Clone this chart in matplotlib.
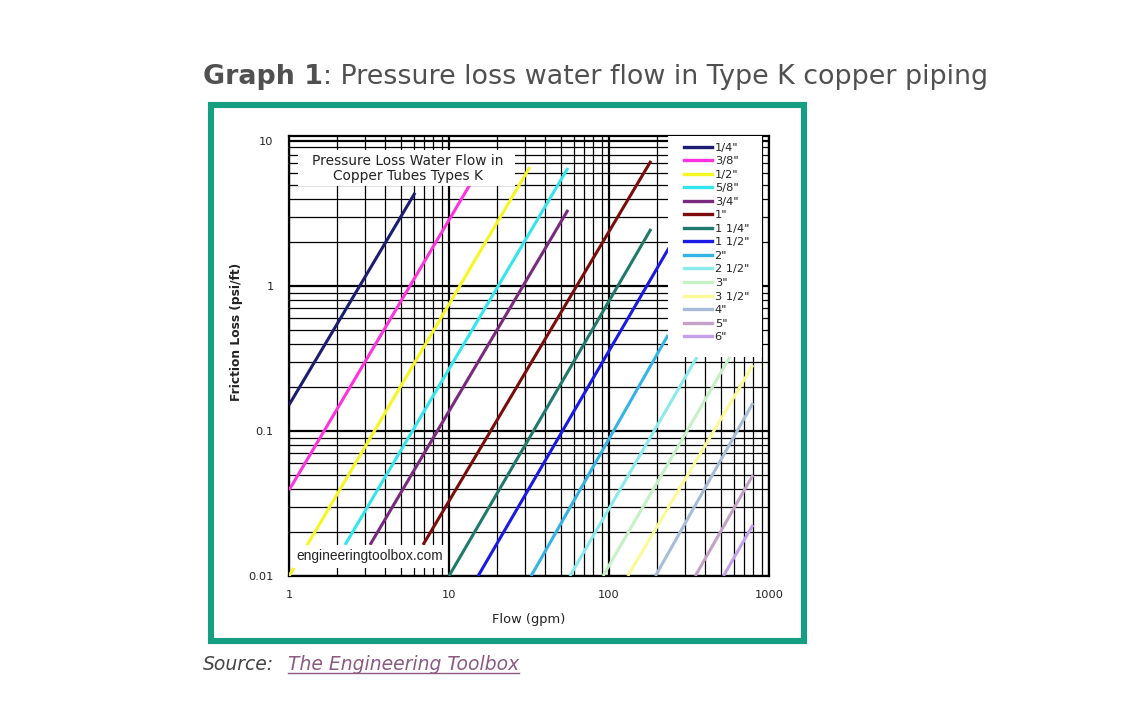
import matplotlib
matplotlib.use("Agg")
import matplotlib.pyplot as plt
from matplotlib.patches import Rectangle
from matplotlib.lines import Line2D
from matplotlib.ticker import LogLocator, NullFormatter, FixedLocator

# ---------------- data ----------------
sizes = ['1/4"', '3/8"', '1/2"', '5/8"', '3/4"', '1"', '1 1/4"', '1 1/2"',
         '2"', '2 1/2"', '3"', '3 1/2"', '4"', '5"', '6"']
flow_start = [1.0, 1.0, 1.0, 2.24, 3.21, 6.88, 10.0, 15.2,
              32.6, 57.0, 91.7, 131.0, 195.0, 346.0, 519.0]
flow_end = [6.13, 13.5, 32.0, 55.4, 55.4, 183.0, 183.0, 237.0,
            234.0, 355.0, 570.0, 794.0, 794.0, 794.0, 794.0]
loss_start = [0.151, 0.039, 0.010, 0.0164, 0.0164, 0.0164, 0.010, 0.010,
              0.010, 0.010, 0.010, 0.010, 0.010, 0.010, 0.010]
loss_end = [4.38, 4.98, 6.6, 6.5, 3.34, 7.28, 2.47, 1.83,
            0.459, 0.324, 0.324, 0.285, 0.156, 0.0497, 0.0225]
colors = ['#1c1c72', '#ff33dd', '#f6f622', '#33e6ee', '#7a2a7e', '#7a0c0c',
          '#1f7a6c', '#1a1ae6', '#33b4e4', '#8aeaee', '#c6f0c6', '#fafa96',
          '#a8bcd8', '#c4a2c8', '#c2a0ec']

x_ticks = [1, 10, 100, 1000]
x_ticklabels = ['1', '10', '100', '1000']
y_ticks = [0.01, 0.1, 1, 10]
y_ticklabels = ['0.01', '0.1', '1', '10']

FONT = 'DejaVu Sans'
W, H = 1140, 718
fig = plt.figure(figsize=(W / 100, H / 100), dpi=100)
fig.patch.set_facecolor('white')

ax = fig.add_axes([289 / W, 1 - 576 / H, 480 / W, 440 / H])
ax.set_xscale('log')
ax.set_yscale('log')
ax.set_xlim(1, 1000)
ax.set_ylim(0.01, 10.8)

for fs, fe, ls, le, c in zip(flow_start, flow_end, loss_start, loss_end, colors):
    ax.plot([fs, fe], [ls, le], color=c, lw=2.2, solid_capstyle='butt', zorder=3)

# grid
ax.xaxis.set_major_locator(FixedLocator(x_ticks))
ax.yaxis.set_major_locator(FixedLocator(y_ticks))
ax.xaxis.set_minor_locator(LogLocator(base=10, subs=range(2, 10)))
ax.yaxis.set_minor_locator(LogLocator(base=10, subs=range(2, 10)))
ax.xaxis.set_minor_formatter(NullFormatter())
ax.yaxis.set_minor_formatter(NullFormatter())
ax.set_xticklabels(x_ticklabels)
ax.set_yticklabels(y_ticklabels)
ax.grid(True, which='major', color='black', lw=1.6, zorder=1)
ax.grid(True, which='minor', color='black', lw=0.9, zorder=1)
ax.set_axisbelow(True)
ax.tick_params(which='both', length=0)
ax.tick_params(axis='y', pad=11, labelsize=8.2)
ax.tick_params(axis='x', pad=10, labelsize=8.2)
for lab in ax.get_xticklabels() + ax.get_yticklabels():
    lab.set_fontfamily(FONT)
    lab.set_color('#222222')
for sp in ax.spines.values():
    sp.set_linewidth(1.6)
    sp.set_color('black')

ax.set_xlabel('Flow (gpm)', fontsize=9.4, family=FONT, color='#222222')
ax.xaxis.set_label_coords(0.5, -0.084)
ax.set_ylabel('Friction Loss (psi/ft)', fontsize=8.8, fontweight='bold',
              family=FONT, color='#222222')
ax.yaxis.set_label_coords(-0.096, 0.555)

# inner title
ax.add_patch(Rectangle((9 / 480, (576 - 186) / 440), 217 / 480, 36 / 440,
                       transform=ax.transAxes, facecolor='white', edgecolor='none', zorder=4))
ax.text(0.248, 0.927, 'Pressure Loss Water Flow in\nCopper Tubes Types K',
        transform=ax.transAxes, ha='center', va='center', fontsize=9.9,
        family=FONT, color='#222222', linespacing=1.1, zorder=5)

# watermark
ax.add_patch(Rectangle((4 / 480, 8 / 440), 152 / 480, 23 / 440,
                       transform=ax.transAxes, facecolor='white', edgecolor='none', zorder=4))
ax.text(0.015, 0.045, 'engineeringtoolbox.com', transform=ax.transAxes,
        ha='left', va='center', fontsize=9.9, family='Liberation Sans',
        color='#222222', zorder=5)

# legend area
ax.add_patch(Rectangle((0.79, 0.498), 0.195, 0.502, transform=ax.transAxes,
                       facecolor='white', edgecolor='none', zorder=4))
handles = [Line2D([0], [0], color=c, lw=2.4) for c in colors]
leg = ax.legend(handles, sizes, loc='upper left', bbox_to_anchor=(0.818, 0.99),
                frameon=False, handlelength=2.5, handletextpad=0.2,
                labelspacing=0.31, borderpad=0.2, borderaxespad=0,
                prop={'family': FONT, 'size': 8.2})
leg.set_zorder(6)
for t in leg.get_texts():
    t.set_color('#222222')

# green frame
fig.patches.append(Rectangle((211 / W, 1 - 641 / H), (804 - 211) / W, (641 - 105) / H,
                             transform=fig.transFigure, fill=False,
                             edgecolor='#149f82', lw=4.4))

# page title
TS = 19.4
t1 = fig.text(203 / W, 1 - 84 / H, 'Graph 1', fontsize=TS, fontweight='bold',
              color='#505050', family=FONT, va='baseline', ha='left')
fig.canvas.draw()
r = fig.canvas.get_renderer()
bb = t1.get_window_extent(r)
fig.text(bb.x1 / W, 1 - 84 / H, ': Pressure loss water flow in Type K copper piping',
         fontsize=TS, color='#505050', family=FONT, va='baseline', ha='left')

# source line
fig.text(203 / W, 1 - 670 / H, 'Source:', fontsize=13.5, style='italic',
         color='#444444', family=FONT, va='baseline', ha='left')
t3 = fig.text(288 / W, 1 - 670 / H, 'The Engineering Toolbox', fontsize=13.5,
              style='italic', color='#8a5a82', family=FONT,
              va='baseline', ha='left')
fig.canvas.draw()
bb3 = t3.get_window_extent(r)
uy = (1 - 673 / H)
fig.lines.append(Line2D([bb3.x0 / W, bb3.x1 / W], [uy, uy], transform=fig.transFigure,
                        color='#8a5a82', lw=1.0))

fig.savefig('out.png', dpi=100, facecolor='white')
